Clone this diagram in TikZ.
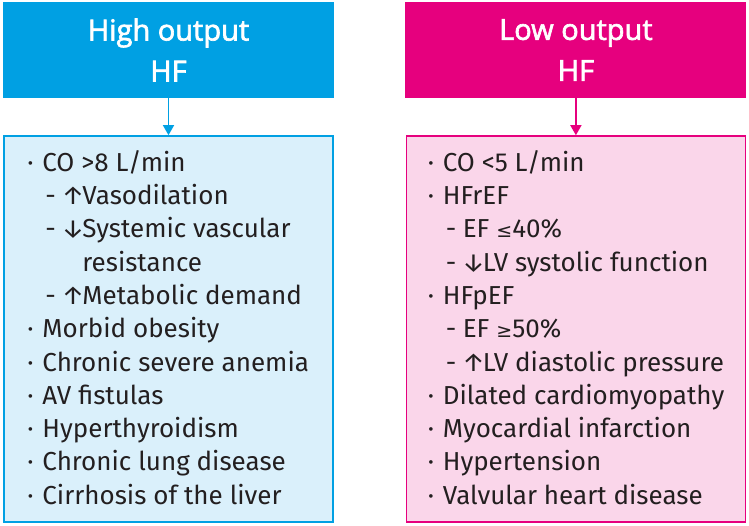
\documentclass[tikz,border=0pt]{standalone}
\usepackage{fontspec}
\setmainfont{Fira Sans}
\newfontfamily\headfont{Open Sans}[FakeBold=2.2]
\newfontfamily\symfont{DejaVu Sans}
\usetikzlibrary{arrows.meta, positioning}
\definecolor{hblue}{RGB}{0,160,227}
\definecolor{hlightblue}{RGB}{218,240,251}
\definecolor{lpink}{RGB}{230,0,126}
\definecolor{llightpink}{RGB}{250,214,234}
\definecolor{txtgray}{RGB}{35,31,32}
\newcommand{\itemdot}{\makebox[15pt][l]{\textperiodcentered}}
\newcommand{\itemdash}{\hspace{18pt}\makebox[17pt][l]{-}}
\newcommand{\uparr}{\makebox[20pt][l]{\hspace{-1pt}↑}}
\newcommand{\dnarr}{\makebox[20pt][l]{\hspace{-1pt}↓}}

\begin{document}
\begin{tikzpicture}[x=1pt,y=-1pt,
  head/.style={text=white,font=\headfont\fontsize{29}{41}\selectfont,align=center,
               minimum height=96pt,inner sep=0pt},
  listbox/.style={line width=1.5pt,minimum height=386pt,inner sep=0pt},
  item/.style={anchor=base west,inner sep=0pt,text=txtgray,
               font=\fontsize{26}{30}\selectfont},
  arr/.style={-{Triangle[length=10pt,width=11pt]},line width=1.5pt}
]
  \useasboundingbox (0,0) rectangle (749,525);

  \node[head,fill=hblue,minimum width=331pt] (hihead) at (168.5,50) {High output\\HF};
  \node[head,fill=lpink,minimum width=341pt,right=71pt of hihead] (lohead) {Low output\\HF};
  \node[listbox,draw=hblue,fill=hlightblue,minimum width=329pt,below=37pt of hihead] (hibox) {};
  \node[listbox,draw=lpink,fill=llightpink,minimum width=339pt,below=37pt of lohead] (lobox) {};

  \draw[arr,hblue] (hihead) -- (hibox);
  \draw[arr,lpink] (lohead) -- (lobox);

  % high output causes
  \foreach [count=\i] \t in {{\itemdot CO >8 L/min},{\itemdash\uparr Vasodilation},
      {\itemdash\dnarr Systemic vascular},{\hspace{55pt}resistance},
      {\itemdash\uparr Metabolic demand},{\itemdot Morbid obesity},
      {\itemdot Chronic severe anemia},{\itemdot AV fistulas},{\itemdot Hyperthyroidism},
      {\itemdot Chronic lung disease},{\itemdot Cirrhosis of the liver}}
    \node[item] (hi\i) at ([xshift=24pt,yshift={-36pt-33.3pt*(\i-1)}]hibox.north west) {\t};

  % low output causes
  \foreach [count=\i] \t in {{\itemdot CO <5 L/min},{\itemdot HFrEF},
      {\itemdash EF {\symfont\fontsize{19}{20}\selectfont ≤}40\%},{\itemdash\dnarr LV systolic function},
      {\itemdot HFpEF},{\itemdash EF {\symfont\fontsize{19}{20}\selectfont ≥}50\%},
      {\itemdash\uparr LV diastolic pressure},{\itemdot Dilated cardiomyopathy},
      {\itemdot Myocardial infarction},{\itemdot Hypertension},{\itemdot Valvular heart disease}}
    \node[item] (lo\i) at ([xshift=22pt,yshift={-36pt-33.3pt*(\i-1)}]lobox.north west) {\t};
\end{tikzpicture}
\end{document}
